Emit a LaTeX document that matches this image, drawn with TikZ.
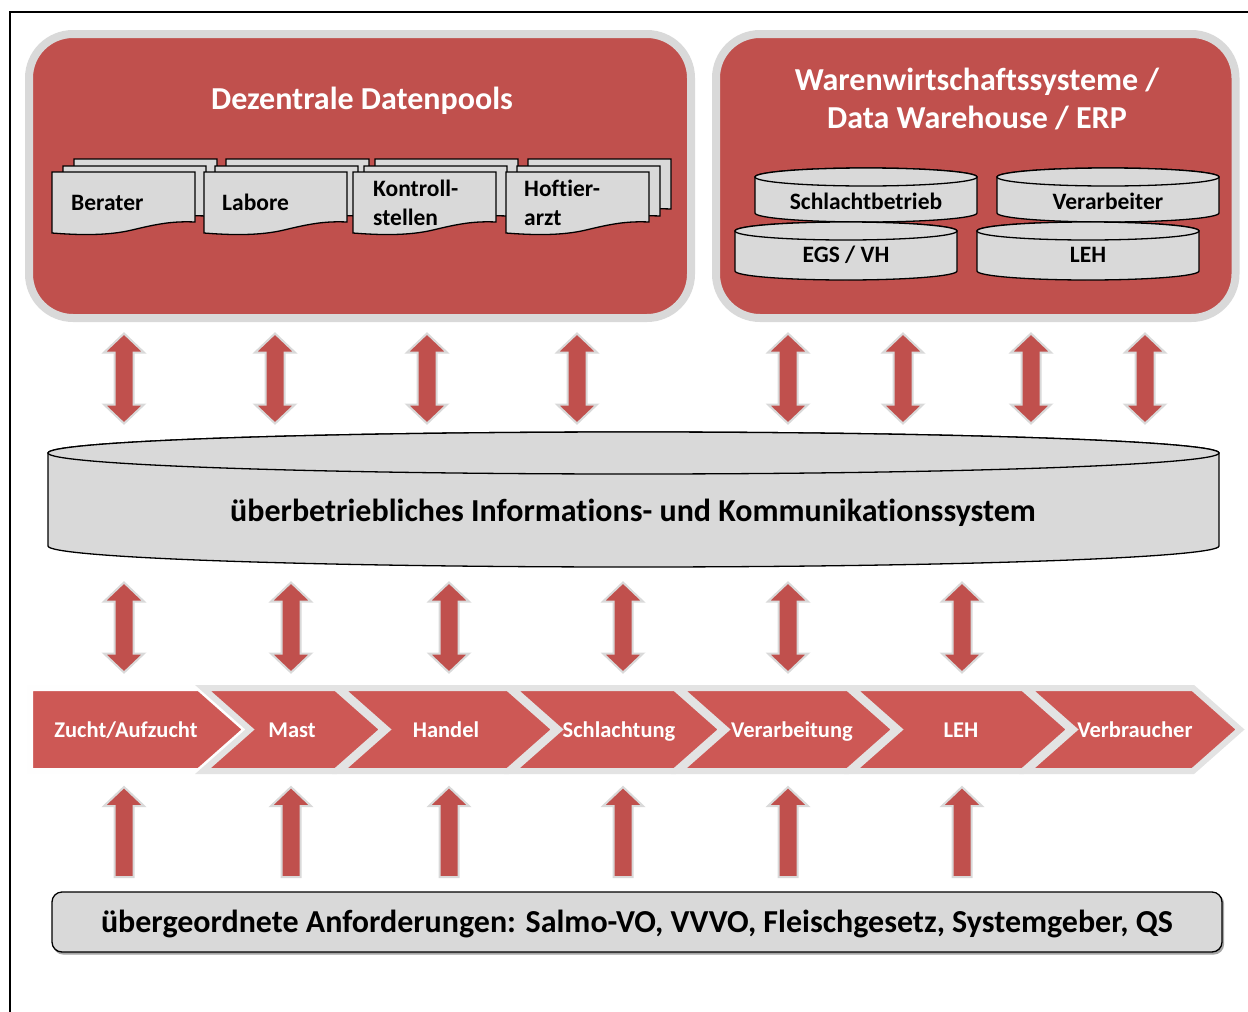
\documentclass[tikz,border=0pt]{standalone}
\usepackage{fontspec}
\setmainfont{Carlito}[Ligatures=NoCommon]

\definecolor{panelred}{HTML}{C0504D}
\definecolor{chevred}{HTML}{CD5855}
\definecolor{rimgray}{HTML}{D9D9D9}
\definecolor{chevrim}{HTML}{E3E3E3}
\definecolor{boxgray}{HTML}{D9D9D9}

% drum (database cylinder): left, right, top, bottom, half height of the ellipse
\newcommand\drum[5]{%
  \pgfmathsetmacro\drumrx{(#2-#1)/2}%
  \pgfmathsetmacro\drumcx{(#1+#2)/2}%
  \pgfmathsetmacro\drumya{#3+#5}%
  \pgfmathsetmacro\drumyb{#4-#5}%
  \draw[outline] (#1,\drumya) -- (#1,\drumyb)
    arc[start angle=180, end angle=0, x radius=\drumrx, y radius=#5]
    -- (#2,\drumya)
    arc[start angle=0, end angle=-180, x radius=\drumrx, y radius=#5] -- cycle;
  \draw[outline] (\drumcx,\drumya) ellipse[x radius=\drumrx, y radius=#5];
}

% chevron of the supply chain: notch x, tip x
\newcommand\chevronat[2]{%
  \draw[chevron] ({#1-47},688) -- ({#2-47},688) -- (#2,729.5)
    -- ({#2-47},771) -- ({#1-47},771) -- (#1,729.5) -- cycle;
}

\tikzset{
  panel/.style={line width=8pt, draw=rimgray, fill=panelred, rounded corners=44pt},
  outline/.style={draw=black, line width=1.3pt, fill=boxgray},
  blockarrow/.style={fill=panelred, draw=rimgray, line width=2pt, line join=miter},
  chevron/.style={fill=chevred, draw=chevrim, line width=6pt, line join=miter},
  bigtext/.style={font=\fontsize{32}{38}\selectfont\bfseries, anchor=base, inner sep=0pt},
  smalltext/.style={font=\fontsize{23.5}{28}\selectfont\bfseries, anchor=base, inner sep=0pt},
  chaintext/.style={font=\fontsize{22.5}{27}\selectfont\bfseries, anchor=base, inner sep=0pt, text=white},
  docpage/.pic={
    \draw[outline] (0,0) -- (143,0) -- (143,50)
      .. controls (120,49) and (105,52) .. (80,58)
      .. controls (55,64) and (25,63) .. (0,61) -- cycle;
  },
  docstack/.pic={
    \pic at (22,-13) {docpage};
    \pic at (11,-6) {docpage};
    \pic at (0,0) {docpage};
  },
  dblarrow/.pic={
    \draw[blockarrow] (0,0) -- (20,19) -- (9.5,19) -- (9.5,71) -- (20,71)
      -- (0,90) -- (-20,71) -- (-9.5,71) -- (-9.5,19) -- (-20,19) -- cycle;
  },
  uparrow/.pic={
    \draw[blockarrow] (0,0) -- (20,19) -- (9.5,19) -- (9.5,90)
      -- (-9.5,90) -- (-9.5,19) -- (-20,19) -- cycle;
  },
}

\begin{document}
\begin{tikzpicture}[x=1pt, y=-1pt]
\useasboundingbox (0,0) rectangle (1248,1012);

% frame
\draw[line width=1.5pt] (10,1012) -- (10,12) -- (1248,12);

% ---- decentral data pools
\draw[panel] (29,34) rectangle (691,318);
\node[bigtext, text=white] (pooltitle) at (362,109) {Dezentrale Datenpools};
\pic at (52,172) {docstack};
\pic at (204,172) {docstack};
\pic at (353,172) {docstack};
\pic at (506,172) {docstack};
\node[smalltext, anchor=base west] (berater) at (71,210) {Berater};
\node[smalltext, anchor=base west] (labore) at (222,210) {Labore};
\node[smalltext, anchor=base west] (kontroll) at (373,196) {Kontroll-};
\node[smalltext, anchor=base west] (stellen) at (373,225) {stellen};
\node[smalltext, anchor=base west] (hoftier) at (524,196) {Hoftier-};
\node[smalltext, anchor=base west] (arzt) at (524,225) {arzt};

% ---- merchandise management / ERP
\draw[panel] (716,34) rectangle (1235.5,318);
\node[bigtext, text=white] (erptitleA) at (977,90.5) {Warenwirtschaftssysteme /};
\node[bigtext, text=white] (erptitleB) at (977,128.5) {Data Warehouse / ERP};
\drum{755}{977}{168}{222}{9}
\drum{997}{1219}{168}{222}{9}
\drum{735}{957}{222}{280}{9}
\drum{977}{1199}{222}{280}{9}
\node[smalltext] (schlachtbetrieb) at (866,209) {Schlachtbetrieb};
\node[smalltext] (verarbeiter) at (1108,209) {Verarbeiter};
\node[smalltext] (egs) at (846,262) {EGS / VH};
\node[smalltext] (lehdb) at (1088,262) {LEH};

% ---- arrows between pools and the central system
\foreach \ax in {124,275,427,577,788,903,1031,1145}
  \pic at (\ax,333.5) {dblarrow};

% ---- central information and communication system
\drum{48}{1219}{432}{567}{21}
\node[bigtext] (ikt) at (633,521) {überbetriebliches Informations- und Kommunikationssystem};

\foreach \ax in {124,291,449,623,788,962}
  \pic at (\ax,582.5) {dblarrow};

% ---- supply chain
\draw[chevron, draw=white!95!chevrim] (30,688) -- (199,688) -- (246,729.5) -- (199,771) -- (30,771) -- cycle;
\chevronat{250}{383}
\chevronat{387}{555}
\chevronat{559}{722}
\chevronat{726}{895}
\chevronat{899}{1070}
\chevronat{1074}{1240}
\node[chaintext] (zucht) at (126,737) {Zucht/Aufzucht};
\node[chaintext] (mast) at (292,737) {Mast};
\node[chaintext] (handel) at (446,737) {Handel};
\node[chaintext] (schlachtung) at (619,737) {Schlachtung};
\node[chaintext] (verarbeitung) at (792,737) {Verarbeitung};
\node[chaintext] (leh) at (961,737) {LEH};
\node[chaintext] (verbraucher) at (1135,737) {Verbraucher};

\foreach \ax in {124,291,449,623,788,962}
  \pic at (\ax,787) {uparrow};

% ---- superordinate requirements
\draw[fill=gray!70, draw=gray!70, rounded corners=10pt, line width=1.3pt] (53.5,894) rectangle (1223.5,954);
\draw[outline, rounded corners=10pt] (52,892) rectangle (1222,952);
\node[bigtext] (req) at (637,932) {übergeordnete Anforderungen: Salmo-VO, VVVO, Fleischgesetz, Systemgeber, QS};
\end{tikzpicture}
\end{document}
